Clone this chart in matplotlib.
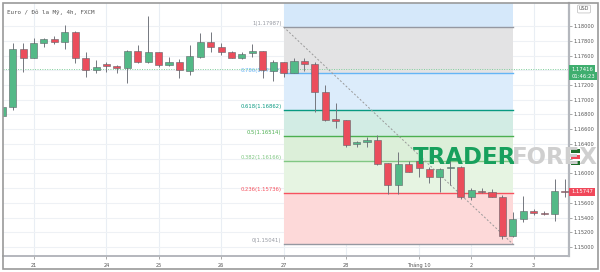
import matplotlib.pyplot as plt
from matplotlib.patches import Rectangle

# EUR/USD 4h candles
opens = [1.16779, 1.16905, 1.17688, 1.17570, 1.17766, 1.17820, 1.17779, 1.17923, 1.17562, 1.17403,
         1.17481, 1.17462, 1.17434, 1.17665, 1.17508, 1.17644, 1.17471, 1.17508, 1.17394, 1.17584,
         1.17787, 1.17720, 1.17644, 1.17570, 1.17630, 1.17661, 1.17394, 1.17508, 1.17358, 1.17525,
         1.17481, 1.17109, 1.16738, 1.16724, 1.16399, 1.16422, 1.16453, 1.16137, 1.15842, 1.16123,
         1.16168, 1.16055, 1.15947, 1.16069, 1.16090, 1.15683, 1.15765, 1.15743, 1.15683, 1.15150,
         1.15380, 1.15489, 1.15466, 1.15444, 1.15765]
closes = [1.16901, 1.17688, 1.17570, 1.17766, 1.17820, 1.17783, 1.17923, 1.17562, 1.17403, 1.17448,
          1.17462, 1.17426, 1.17665, 1.17508, 1.17644, 1.17471, 1.17508, 1.17403, 1.17597, 1.17787,
          1.17720, 1.17652, 1.17570, 1.17620, 1.17661, 1.17403, 1.17508, 1.17367, 1.17525, 1.17481,
          1.17109, 1.16724, 1.16715, 1.16385, 1.16430, 1.16453, 1.16127, 1.15842, 1.16127, 1.16023,
          1.16069, 1.15955, 1.16055, 1.16090, 1.15683, 1.15774, 1.15743, 1.15683, 1.15150, 1.15376,
          1.15489, 1.15458, 1.15444, 1.15765, 1.15747]
highs = [1.17091, 1.17770, 1.17770, 1.17838, 1.17834, 1.17865, 1.18014, 1.17930, 1.17652, 1.17539,
         1.17516, 1.17471, 1.17670, 1.17743, 1.18136, 1.17648, 1.17576, 1.17553, 1.17743, 1.17901,
         1.17915, 1.17766, 1.17655, 1.17644, 1.17756, 1.17668, 1.17539, 1.17512, 1.17562, 1.17562,
         1.17516, 1.17200, 1.16959, 1.16731, 1.16446, 1.16490, 1.16521, 1.16140, 1.16286, 1.16172,
         1.16272, 1.16090, 1.16069, 1.16226, 1.16100, 1.15797, 1.15797, 1.15784, 1.15706, 1.15480,
         1.15693, 1.15512, 1.15489, 1.15919, 1.15919]
lows = [1.16752, 1.16860, 1.17380, 1.17565, 1.17720, 1.17756, 1.17684, 1.17502, 1.17312, 1.17358,
        1.17372, 1.17358, 1.17231, 1.17505, 1.17494, 1.17440, 1.17462, 1.17299, 1.17335, 1.17570,
        1.17644, 1.17607, 1.17566, 1.17548, 1.17584, 1.17291, 1.17254, 1.17304, 1.17356, 1.17390,
        1.16837, 1.16715, 1.16612, 1.16362, 1.16362, 1.16362, 1.16120, 1.15720, 1.15720, 1.16019,
        1.15955, 1.15865, 1.15751, 1.15842, 1.15648, 1.15638, 1.15729, 1.15679, 1.15110, 1.15132,
        1.15344, 1.15435, 1.15435, 1.15353, 1.15683]

day_pos = [3, 10, 15, 21, 27, 33, 40, 45, 51]
day_labels = ['21', '24', '25', '26', '27', '28', 'Tháng 10', '2', '3']

fib_high = 1.17987
fib_low = 1.15041
fib_start, fib_end = 27, 49
fib_ratios = [1, 0.786, 0.618, 0.5, 0.382, 0.236, 0]
fib_line_colors = ['#9598a1', '#64b5f6', '#089981', '#4caf50', '#81c784', '#f7525f', '#9598a1']
fib_fill_colors = ['#e3e3e4', '#dcecfb', '#d2ece4', '#dcefd9', '#e6f4e2', '#fdd9d9']

last_price = 1.15747
live_price = 1.17416

green = '#53b987'
red = '#eb4d5c'

fig = plt.figure(figsize=(6, 2.72), dpi=100)
ax = fig.add_axes([3 / 600, 16 / 272, 566 / 600, 253.3 / 272])
ax.set_xlim(0.07, 54.39)
ax.set_ylim(1.14878, 1.18317)

# grid
for p in day_pos:
    ax.axvline(p, color='#e9eef4', lw=0.8, zorder=0)
yt = [1.150 + 0.002 * i for i in range(16)]
for y in yt:
    ax.axhline(y, color='#eef1f5', lw=0.8, zorder=0)

# fib retracement
levels = [fib_low + r * (fib_high - fib_low) for r in fib_ratios]
ax.fill_between([fib_start, fib_end], fib_high, 1.18317, color='#d5e8fa', lw=0, zorder=1)
for i in range(len(levels) - 1):
    ax.fill_between([fib_start, fib_end], levels[i + 1], levels[i], color=fib_fill_colors[i], lw=0, zorder=1)
for r, lv, c in zip(fib_ratios, levels, fib_line_colors):
    ax.plot([fib_start, fib_end], [lv, lv], color=c, lw=1, zorder=2)
    ax.text(fib_start - 0.2, lv + 0.0001, f'{r:g}({lv:.5f})', color=c, fontsize=3.8,
            ha='right', va='bottom', zorder=2)
ax.plot([fib_start, fib_end], [fib_high, fib_low], color='#9a9a9a', lw=0.7, ls=(0, (2, 2)), zorder=2)

# live price line
ax.axhline(live_price, color='#7fcf9c', lw=0.7, ls=(0, (1, 1.5)), zorder=2)

# candles
for i in range(len(opens)):
    o, c, h, l = opens[i], closes[i], highs[i], lows[i]
    col = green if c >= o else red
    ax.vlines(i, l, h, color='#74777f', lw=0.7, zorder=3)
    bottom = min(o, c)
    height = max(abs(c - o), 0.00015)
    ax.bar(i, height, 0.68, bottom, color=col, edgecolor='#606369', lw=0.4, zorder=4)

# axes styling
for s in ['left', 'top']:
    ax.spines[s].set_visible(False)
ax.spines['right'].set_color('#b4b7bd')
ax.spines['right'].set_linewidth(1.6)
ax.spines['bottom'].set_color('#b4b7bd')
ax.spines['bottom'].set_linewidth(1.4)
ax.yaxis.tick_right()
ax.set_yticks(yt)
hidden = {'1.17400', '1.16200', '1.15800'}  # covered by the price boxes in the original
ax.set_yticklabels(['' if f'{y:.5f}' in hidden else f'{y:.5f}' for y in yt])
ax.set_xticks(day_pos)
ax.set_xticklabels(day_labels)
ax.tick_params(axis='both', labelsize=3.6, colors='#888888', labelcolor='#555555',
               length=2, width=0.5, pad=1.5)
ax.tick_params(axis='x', pad=3)

# price labels on the axis
yx = ax.get_yaxis_transform()
ax.text(1.004, live_price, '1.17416', transform=yx, fontsize=3.8, color='white', va='center', ha='left',
        bbox=dict(boxstyle='square,pad=0.35', fc='#3fae6f', ec='none'), clip_on=False, zorder=10)
ax.text(1.004, live_price - 0.00095, '01:46:23', transform=yx, fontsize=3.8, color='white', va='center',
        ha='left', bbox=dict(boxstyle='square,pad=0.35', fc='#3fae6f', ec='none'), clip_on=False, zorder=10)
ax.text(1.004, last_price, '1.15747', transform=yx, fontsize=3.8, color='white', va='center', ha='left',
        bbox=dict(boxstyle='square,pad=0.35', fc='#f0485a', ec='none'), clip_on=False, zorder=10)
for yy, cc in [(1.16304, '#1d6e2a'), (1.16222, '#f0485a'), (1.16141, '#1d6e2a')]:
    ax.add_patch(Rectangle((1.004, yy - 0.00025), 0.015, 0.0005, transform=yx, fc=cc, ec='none',
                           clip_on=False, zorder=10))

# header + usd
fig.text(7 / 600, 1 - 12 / 272, 'Euro / Đô la Mỹ, 4h, FXCM', fontsize=4.2, family='DejaVu Sans Mono',
         color='#555555', va='center')
fig.text(584 / 600, 1 - 9 / 272, 'USD', fontsize=3.5, color='#555555', ha='center', va='center',
         bbox=dict(boxstyle='round,pad=0.3', fc='white', ec='#bbbbbb', lw=0.5))

# watermark
fig.text(413 / 600, 1 - 157 / 272, 'TRADER', fontsize=16.5, fontweight='bold', color='#17a05d',
         ha='left', va='center', zorder=20)
fig.text(512 / 600, 1 - 157 / 272, 'FOREX', fontsize=16.5, fontweight='bold', color='#cfcfcf',
         ha='left', va='center', zorder=20)

# outer frame
fig.add_artist(Rectangle((2.5 / 600, 3 / 272), 595.5 / 600, 266.3 / 272, transform=fig.transFigure,
                         fill=False, ec='#9a9a9a', lw=1.2))

fig.savefig('out.png', dpi=100)
